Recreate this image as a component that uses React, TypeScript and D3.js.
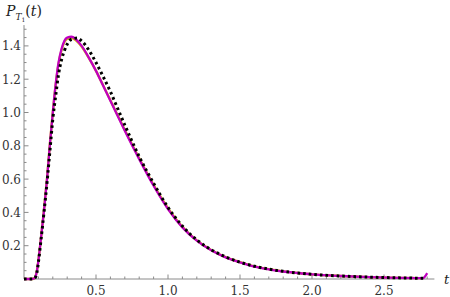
import React from "react";
import * as d3 from "d3";

// time values (t) and densities
const tMagenta = [0, 0.05, 0.07, 0.08, 0.09, 0.1, 0.12, 0.14, 0.16, 0.18, 0.2, 0.22, 0.24, 0.26, 0.28, 0.3, 0.33, 0.36, 0.4, 0.45, 0.5, 0.55, 0.6, 0.65, 0.7, 0.8, 0.9, 1.0, 1.1, 1.2, 1.3, 1.4, 1.5, 1.6, 1.7, 1.8, 1.9, 2.0, 2.2, 2.4, 2.6, 2.77, 2.8];
const pMagenta = [0, 0, 0.003, 0.015, 0.05, 0.11, 0.26, 0.42, 0.6, 0.81, 1.0, 1.17, 1.3, 1.38, 1.43, 1.45, 1.455, 1.44, 1.4, 1.33, 1.25, 1.16, 1.07, 0.98, 0.89, 0.72, 0.56, 0.42, 0.31, 0.23, 0.172, 0.13, 0.1, 0.075, 0.058, 0.045, 0.036, 0.028, 0.018, 0.011, 0.007, 0.005, 0.035];

const tYellow = [0, 0.05, 0.07, 0.08, 0.09, 0.1, 0.12, 0.14, 0.16, 0.18, 0.2, 0.22, 0.24, 0.26, 0.28, 0.3, 0.33, 0.36, 0.4, 0.45, 0.5, 0.55, 0.6, 0.65, 0.7, 0.8, 0.9, 1.0, 1.1, 1.2, 1.3, 1.4, 1.5, 1.6, 1.7, 1.8, 1.9, 2.0, 2.2, 2.4, 2.6, 2.77];
const pYellow = [0, 0, 0.003, 0.016, 0.052, 0.112, 0.262, 0.425, 0.605, 0.815, 1.0, 1.165, 1.292, 1.372, 1.422, 1.442, 1.447, 1.434, 1.396, 1.328, 1.25, 1.162, 1.073, 0.984, 0.895, 0.725, 0.565, 0.425, 0.313, 0.232, 0.174, 0.131, 0.101, 0.076, 0.059, 0.046, 0.036, 0.028, 0.018, 0.011, 0.007, 0.005];

const tDotted = [0, 0.06, 0.075, 0.09, 0.1, 0.12, 0.14, 0.16, 0.18, 0.2, 0.22, 0.24, 0.26, 0.28, 0.3, 0.33, 0.37, 0.4, 0.45, 0.5, 0.55, 0.6, 0.65, 0.7, 0.8, 0.9, 1.0, 1.1, 1.2, 1.3, 1.4, 1.5, 1.6, 1.7, 1.8, 1.9, 2.0, 2.2, 2.4, 2.6, 2.78];
const pDotted = [0, 0, 0.005, 0.04, 0.1, 0.25, 0.41, 0.58, 0.77, 0.96, 1.1, 1.23, 1.315, 1.37, 1.41, 1.44, 1.447, 1.43, 1.375, 1.3, 1.215, 1.125, 1.025, 0.925, 0.735, 0.575, 0.43, 0.318, 0.235, 0.176, 0.133, 0.101, 0.077, 0.059, 0.046, 0.036, 0.028, 0.018, 0.011, 0.007, 0.004];

const xMajor = [0.5, 1.0, 1.5, 2.0, 2.5];
const yMajor = [0.2, 0.4, 0.6, 0.8, 1.0, 1.2, 1.4];

const W = 450, H = 297;

const App = () => {
  const x = d3.scaleLinear().domain([0, 2.85]).range([24, 24 + 2.85 * 144]);
  const y = d3.scaleLinear().domain([0, 1.525]).range([279, 279 - 1.525 * 166.5]);

  const line = d3
    .line<[number, number]>()
    .x((d) => x(d[0]))
    .y((d) => y(d[1]))
    .curve(d3.curveMonotoneX);

  const zip = (a: number[], b: number[]) => a.map((t, i) => [t, b[i]] as [number, number]);

  // minor ticks
  const xMinor = d3.range(1, 29).map((i) => i / 10).filter((v) => !xMajor.some((m) => Math.abs(m - v) < 1e-6));
  const yMinor = d3.range(1, 31).map((i) => i * 0.05).filter((v) => !yMajor.some((m) => Math.abs(m - v) < 1e-6));

  const axisColor = "#8a8a8a";
  const font = "'DejaVu Serif', serif";

  return (
    <svg width={W} height={H} style={{ position: "absolute", left: 0, top: 0, background: "#fff" }}>
      {/* axes */}
      <line x1={x(0)} x2={x(2.85)} y1={y(0)} y2={y(0)} stroke={axisColor} strokeWidth={1} />
      <line x1={x(0)} x2={x(0)} y1={y(0)} y2={y(1.525)} stroke={axisColor} strokeWidth={1} />
      {xMajor.map((v) => (
        <line key={"xM" + v} x1={x(v)} x2={x(v)} y1={y(0)} y2={y(0) - 4.5} stroke={axisColor} />
      ))}
      {xMinor.map((v) => (
        <line key={"xm" + v} x1={x(v)} x2={x(v)} y1={y(0)} y2={y(0) - 2.5} stroke={axisColor} />
      ))}
      {yMajor.map((v) => (
        <line key={"yM" + v} x1={x(0)} x2={x(0) + 4.5} y1={y(v)} y2={y(v)} stroke={axisColor} />
      ))}
      {yMinor.map((v) => (
        <line key={"ym" + v} x1={x(0)} x2={x(0) + 2.5} y1={y(v)} y2={y(v)} stroke={axisColor} />
      ))}
      <g style={{ fontFamily: font }}>
        {xMajor.map((v) => (
          <text key={"xl" + v} x={x(v)} y={y(0) + 16} textAnchor="middle" fontSize={12} fill="#333">
            {v.toFixed(1)}
          </text>
        ))}
        {yMajor.map((v) => (
          <text key={"yl" + v} x={x(0) - 3} y={y(v) + 4.5} textAnchor="end" fontSize={12} fill="#333">
            {v.toFixed(1)}
          </text>
        ))}
        <text x={444} y={y(0) + 5} fontStyle="italic" fontSize={13} fill="#222">t</text>
        <text x={6} y={16} fontSize={14} fill="#222">
          <tspan fontStyle="italic">P</tspan>
          <tspan fontStyle="italic" fontSize={9} dy={4}>T</tspan>
          <tspan fontSize={6} dy={2}>1</tspan>
          <tspan dy={-6}>(</tspan>
          <tspan fontStyle="italic">t</tspan>
          <tspan>)</tspan>
        </text>
      </g>

      {/* curves */}
      <path d={line(zip(tYellow, pYellow)) || ""} fill="none" stroke="#d4c010" strokeWidth={2.4} />
      <path d={line(zip(tMagenta, pMagenta)) || ""} fill="none" stroke="#c000c0" strokeWidth={2.3} />
      <path d={line(zip(tDotted, pDotted)) || ""} fill="none" stroke="#000" strokeWidth={3} strokeDasharray="2.6,3" />
    </svg>
  );
};

export default App;
